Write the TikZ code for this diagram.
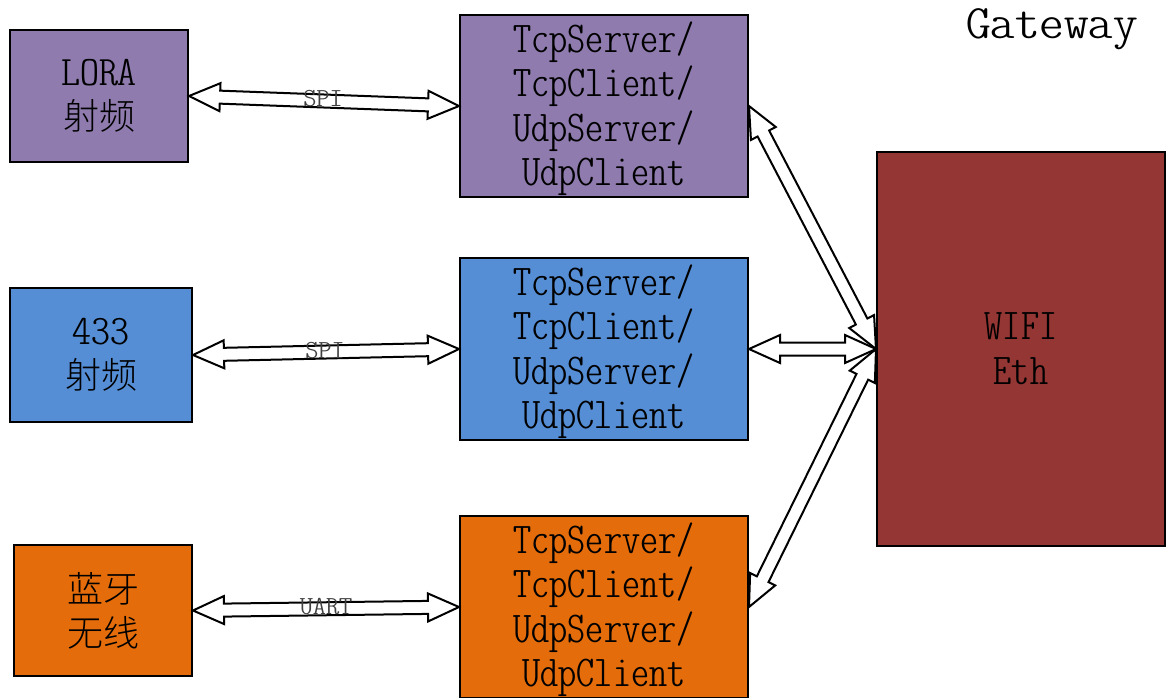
\documentclass[tikz,border=0pt]{standalone}
\usepackage{fontspec}
\usepackage{graphicx}
\newfontfamily\cjk{Noto Sans CJK SC Light}
\newfontfamily\lmcond{Latin Modern Mono Light Cond}
\usetikzlibrary{calc}
\definecolor{cpurple}{HTML}{8F7BAE}
\definecolor{cblue}{HTML}{558ED5}
\definecolor{corange}{HTML}{E46C0A}
\definecolor{cred}{HTML}{943634}
\definecolor{clabel}{HTML}{404040}
\newcommand\condT[1]{\scalebox{1.17}[1]{#1}}
\newcommand\condL[1]{\scalebox{1.28}[1]{#1}}
\newcommand\condS[1]{\scalebox{1.44}[1]{#1}}
\newcommand\dblblock[2]{%
 \draw[blockarrow] (#1)
 -- ($($(#1)!31pt!(#2)$)!14pt!90:(#2)$)
 -- ($($(#1)!31pt!(#2)$)!6.5pt!90:(#2)$)
 -- ($($(#2)!31pt!(#1)$)!6.5pt!-90:(#1)$)
 -- ($($(#2)!31pt!(#1)$)!14pt!-90:(#1)$)
 -- (#2)
 -- ($($(#2)!31pt!(#1)$)!14pt!90:(#1)$)
 -- ($($(#2)!31pt!(#1)$)!6.5pt!90:(#1)$)
 -- ($($(#1)!31pt!(#2)$)!6.5pt!-90:(#2)$)
 -- ($($(#1)!31pt!(#2)$)!14pt!-90:(#2)$)
 -- cycle;}
\begin{document}
\begin{tikzpicture}[x=1pt,y=-1pt,
 box/.style={draw=black, line width=2pt, inner sep=0pt, align=center},
 tcpbox/.style={box, minimum width=288pt, minimum height=182pt, font=\lmcond\fontsize{44}{44.5}\selectfont},
 srcbox/.style={box, font=\fontsize{36}{44}\selectfont},
 blockarrow/.style={draw=black, line width=2pt, fill=white, line join=miter},
 linklabel/.style={text=clabel, font=\lmcond\fontsize{26}{26}\selectfont, inner sep=0pt}
]
\useasboundingbox[fill=white] (0,0) rectangle (1171,697);

% source boxes
\node[srcbox, fill=cpurple, minimum width=178pt, minimum height=132pt] (lora) at (99,96)
 {{\lmcond\fontsize{42}{44}\selectfont\condL{LORA}}\\{\cjk 射频}};
\node[srcbox, fill=cblue, minimum width=182pt, minimum height=134pt] (r433) at (101,355)
 {{\lmcond\fontsize{42}{44}\selectfont\condL{433}}\\{\cjk 射频}};
\node[srcbox, fill=corange, minimum width=178pt, minimum height=131pt] (bt) at (103,610.5)
 {{\cjk 蓝牙}\\{\cjk 无线}};

% protocol boxes
\node[tcpbox, fill=cpurple] (tcp1) at (604,106)
 {\rule{0pt}{36pt}\condT{TcpServer/}\\\condT{TcpClient/}\\\condT{UdpServer/}\\\condT{UdpClient}};
\node[tcpbox, fill=cblue] (tcp2) at (604,349)
 {\rule{0pt}{36pt}\condT{TcpServer/}\\\condT{TcpClient/}\\\condT{UdpServer/}\\\condT{UdpClient}};
\node[tcpbox, fill=corange] (tcp3) at (604,607)
 {\rule{0pt}{36pt}\condT{TcpServer/}\\\condT{TcpClient/}\\\condT{UdpServer/}\\\condT{UdpClient}};

% gateway
\node[box, fill=cred, minimum width=288pt, minimum height=394pt, font=\lmcond\fontsize{44}{45}\selectfont] (wifi) at (1021,349)
 {\condT{WIFI}\\\condT{Eth}};
\node[font=\lmcond\fontsize{48}{48}\selectfont, inner sep=0pt, anchor=base] (gw) at (1052,38) {\scalebox{1.46}[1]{Gateway}};

% connectors
\dblblock{lora.east}{tcp1.west}
\dblblock{r433.east}{tcp2.west}
\dblblock{bt.east}{tcp3.west}
\dblblock{tcp1.east}{wifi.west}
\dblblock{tcp2.east}{wifi.west}
\dblblock{tcp3.east}{wifi.west}

% labels
\node[linklabel] (l1) at (323,99) {\condS{SPI}};
\node[linklabel] (l2) at (325,351) {\condS{SPI}};
\node[linklabel] (l3) at (326,607) {\condS{UART}};
\end{tikzpicture}
\end{document}
